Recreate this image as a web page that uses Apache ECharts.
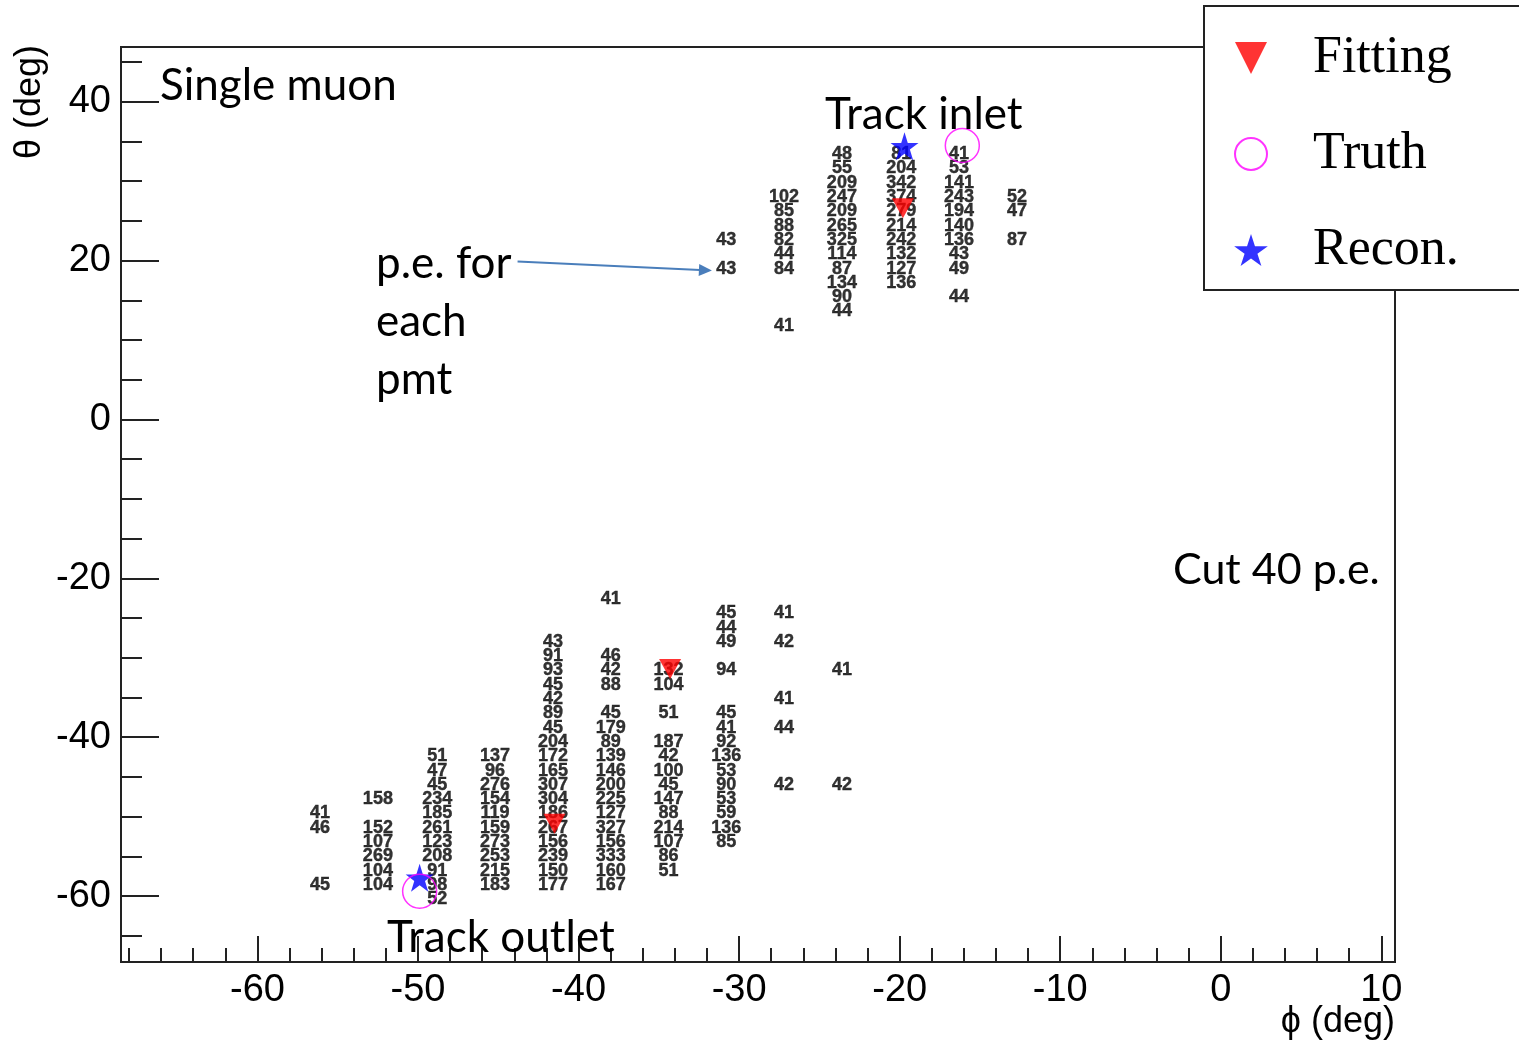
<!DOCTYPE html>
<html>
<head>
<meta charset="utf-8">
<script src="https://cdn.jsdelivr.net/npm/echarts@6/dist/echarts.min.js"></script>
<style>
  html, body { margin: 0; padding: 0; background: #fff; }
  #chart { width: 1519px; height: 1044px; }
</style>
</head>
<body>
<div id="chart"></div>
<script>
// ---- axis ticks ----
const xMajorTicks = [-60, -50, -40, -30, -20, -10, 0, 10];
const xMinorTicks = [-68, -66, -64, -62, -58, -56, -54, -52, -48, -46, -44, -42, -38, -36, -34, -32,
                     -28, -26, -24, -22, -18, -16, -14, -12, -8, -6, -4, -2, 2, 4, 6, 8];
const yMajorTicks = [-60, -40, -20, 0, 20, 40];
const yMinorTicks = [-65, -55, -50, -45, -35, -30, -25, -15, -10, -5, 5, 10, 15, 25, 30, 35, 45];

// ---- p.e. per PMT: [phi, theta, p.e.] ----
const peInlet = [
  [-30.8, 22.6, 43], [-30.8, 19.0, 43],
  [-27.2, 28.0, 102], [-27.2, 26.2, 85], [-27.2, 24.4, 88], [-27.2, 22.6, 82], [-27.2, 20.8, 44], [-27.2, 19.0, 84], [-27.2, 11.8, 41],
  [-23.6, 33.4, 48], [-23.6, 31.6, 55], [-23.6, 29.8, 209], [-23.6, 28.0, 247], [-23.6, 26.2, 209], [-23.6, 24.4, 265],
  [-23.6, 22.6, 325], [-23.6, 20.8, 114], [-23.6, 19.0, 87], [-23.6, 17.2, 134], [-23.6, 15.4, 90], [-23.6, 13.6, 44],
  [-19.9, 33.4, 81], [-19.9, 31.6, 204], [-19.9, 29.8, 342], [-19.9, 28.0, 374], [-19.9, 26.2, 279], [-19.9, 24.4, 214],
  [-19.9, 22.6, 242], [-19.9, 20.8, 132], [-19.9, 19.0, 127], [-19.9, 17.2, 136],
  [-16.3, 33.4, 41], [-16.3, 31.6, 53], [-16.3, 29.8, 141], [-16.3, 28.0, 243], [-16.3, 26.2, 194], [-16.3, 24.4, 140],
  [-16.3, 22.6, 136], [-16.3, 20.8, 43], [-16.3, 19.0, 49], [-16.3, 15.4, 44],
  [-12.7, 28.0, 52], [-12.7, 26.2, 47], [-12.7, 22.6, 87]
];
const peOutlet = [
  [-56.1, -49.6, 41], [-56.1, -51.4, 46], [-56.1, -58.6, 45],
  [-52.5, -47.8, 158], [-52.5, -51.4, 152], [-52.5, -53.2, 107], [-52.5, -55.0, 269], [-52.5, -56.8, 104], [-52.5, -58.6, 104],
  [-48.8, -42.4, 51], [-48.8, -44.2, 47], [-48.8, -46.0, 45], [-48.8, -47.8, 234], [-48.8, -49.6, 185], [-48.8, -51.4, 261],
  [-48.8, -53.2, 123], [-48.8, -55.0, 208], [-48.8, -56.8, 91], [-48.8, -58.6, 98], [-48.8, -60.4, 52],
  [-45.2, -42.4, 137], [-45.2, -44.2, 96], [-45.2, -46.0, 276], [-45.2, -47.8, 154], [-45.2, -49.6, 119], [-45.2, -51.4, 159],
  [-45.2, -53.2, 273], [-45.2, -55.0, 253], [-45.2, -56.8, 215], [-45.2, -58.6, 183],
  [-41.6, -28.0, 43], [-41.6, -29.8, 91], [-41.6, -31.6, 93], [-41.6, -33.4, 45], [-41.6, -35.2, 42], [-41.6, -37.0, 89],
  [-41.6, -38.8, 45], [-41.6, -40.6, 204], [-41.6, -42.4, 172], [-41.6, -44.2, 165], [-41.6, -46.0, 307], [-41.6, -47.8, 304],
  [-41.6, -49.6, 186], [-41.6, -51.4, 267], [-41.6, -53.2, 156], [-41.6, -55.0, 239], [-41.6, -56.8, 150], [-41.6, -58.6, 177],
  [-38.0, -22.6, 41], [-38.0, -29.8, 46], [-38.0, -31.6, 42], [-38.0, -33.4, 88], [-38.0, -37.0, 45], [-38.0, -38.8, 179],
  [-38.0, -40.6, 89], [-38.0, -42.4, 139], [-38.0, -44.2, 146], [-38.0, -46.0, 200], [-38.0, -47.8, 225], [-38.0, -49.6, 127],
  [-38.0, -51.4, 327], [-38.0, -53.2, 156], [-38.0, -55.0, 333], [-38.0, -56.8, 160], [-38.0, -58.6, 167],
  [-34.4, -31.6, 132], [-34.4, -33.4, 104], [-34.4, -37.0, 51], [-34.4, -40.6, 187], [-34.4, -42.4, 42], [-34.4, -44.2, 100],
  [-34.4, -46.0, 45], [-34.4, -47.8, 147], [-34.4, -49.6, 88], [-34.4, -51.4, 214], [-34.4, -53.2, 107], [-34.4, -55.0, 86],
  [-34.4, -56.8, 51],
  [-30.8, -24.4, 45], [-30.8, -26.2, 44], [-30.8, -28.0, 49], [-30.8, -31.6, 94], [-30.8, -37.0, 45], [-30.8, -38.8, 41],
  [-30.8, -40.6, 92], [-30.8, -42.4, 136], [-30.8, -44.2, 53], [-30.8, -46.0, 90], [-30.8, -47.8, 53], [-30.8, -49.6, 59],
  [-30.8, -51.4, 136], [-30.8, -53.2, 85],
  [-27.2, -24.4, 41], [-27.2, -28.0, 42], [-27.2, -35.2, 41], [-27.2, -38.8, 44], [-27.2, -46.0, 42],
  [-23.6, -31.6, 41], [-23.6, -46.0, 42]
];

// ---- track points: [phi, theta] ----
const fittingPts = [[-19.8, 26.6], [-34.3, -31.4], [-41.5, -50.9]];
const truthPts = [[-16.1, 34.5], [-49.9, -59.4]];
const reconPts = [[-19.7, 34.4], [-49.9, -57.7]];

// arrow "p.e. for each pmt" -> PMT, [phi, theta]
const arrowStart = [-43.8, 19.9];
const arrowEnd = [-32.1, 18.8];

const TRI_DOWN = 'path://M0,0L20,0L10,20Z';
const STAR = 'path://M50,0L61.2,34.5L97.6,34.5L68.2,55.9L79.4,90.5L50,69.1L20.6,90.5L31.8,55.9L2.4,34.5L38.8,34.5Z';
const AXC = '#222';
const tickFont = 'Liberation Sans';
const annFont = 'Lato';

const peLabel = {
  show: true, position: 'inside', color: '#000',
  fontFamily: 'Liberation Sans', fontWeight: 'bold', fontSize: 18,
  textBorderColor: '#000', textBorderWidth: 0.4,
  formatter: p => String(p.value[2])
};

const chart = echarts.init(document.getElementById('chart'), null, { renderer: 'canvas' });
chart.setOption({
  animation: false,
  backgroundColor: '#fff',
  grid: {
    left: 121, right: 124, top: 47, bottom: 82,
    show: true, borderColor: AXC, borderWidth: 2, backgroundColor: 'transparent',
    containLabel: false, outerBoundsMode: 'none'
  },
  xAxis: [
    {
      type: 'value', min: -68.5, max: 10.85, position: 'bottom',
      name: 'ϕ (deg)', nameLocation: 'end', nameGap: 0, nameMoveOverlap: false,
      nameTextStyle: { fontFamily: tickFont, fontSize: 36, color: '#000', align: 'right', verticalAlign: 'top', padding: [42, 0, 0, 0] },
      axisLine: { show: true, onZero: false, lineStyle: { color: AXC, width: 2 } },
      axisTick: { show: true, inside: true, length: 26, customValues: xMajorTicks, lineStyle: { color: AXC, width: 2 } },
      axisLabel: { show: true, customValues: xMajorTicks, fontFamily: tickFont, fontSize: 38, color: '#000', margin: 10 },
      splitLine: { show: false }
    },
    {
      type: 'value', min: -68.5, max: 10.85, position: 'bottom',
      axisLine: { show: false, onZero: false },
      axisTick: { show: true, inside: true, length: 14, customValues: xMinorTicks, lineStyle: { color: AXC, width: 2 } },
      axisLabel: { show: false },
      splitLine: { show: false }
    }
  ],
  yAxis: [
    {
      type: 'value', min: -68.3, max: 46.9, position: 'left',
      name: 'θ (deg)', nameLocation: 'end', nameGap: 2, nameRotate: 90, nameMoveOverlap: false,
      nameTextStyle: { fontFamily: tickFont, fontSize: 36, color: '#000', align: 'right', verticalAlign: 'bottom', padding: [0, 0, 73, 0] },
      axisLine: { show: true, onZero: false, lineStyle: { color: AXC, width: 2 } },
      axisTick: { show: true, inside: true, length: 38, customValues: yMajorTicks, lineStyle: { color: AXC, width: 2 } },
      axisLabel: { show: true, customValues: yMajorTicks, fontFamily: tickFont, fontSize: 38, color: '#000', margin: 10 },
      splitLine: { show: false }
    },
    {
      type: 'value', min: -68.3, max: 46.9, position: 'left',
      axisLine: { show: false, onZero: false },
      axisTick: { show: true, inside: true, length: 21, customValues: yMinorTicks, lineStyle: { color: AXC, width: 2 } },
      axisLabel: { show: false },
      splitLine: { show: false }
    }
  ],
  legend: {
    orient: 'vertical', left: 1204, top: 6,
    padding: [26, 300, 14, 30],
    itemWidth: 34, itemHeight: 32, itemGap: 44,
    backgroundColor: '#fff', borderColor: AXC, borderWidth: 2,
    selectedMode: false,
    data: ['Fitting', 'Truth', 'Recon.'],
    formatter: '{t|{name}}',
    textStyle: {
      rich: { t: { fontFamily: 'Liberation Serif', fontSize: 52, lineHeight: 60, color: '#000', padding: [0, 0, 0, 40] } }
    }
  },
  series: [
    {
      name: 'p.e. inlet', type: 'scatter', data: peInlet, symbol: 'circle', symbolSize: 1,
      itemStyle: { color: 'rgba(0,0,0,0)' }, label: peLabel, z: 2, silent: true,
      markLine: {
        silent: true, animation: false,
        symbol: ['none', 'triangle'], symbolSize: [12, 13],
        label: { show: false },
        lineStyle: { color: '#4a7ebb', width: 2, type: 'solid' },
        data: [[{ coord: arrowStart }, { coord: arrowEnd }]]
      }
    },
    {
      name: 'p.e. outlet', type: 'scatter', data: peOutlet, symbol: 'circle', symbolSize: 1,
      itemStyle: { color: 'rgba(0,0,0,0)' }, label: peLabel, z: 2, silent: true
    },
    {
      name: 'Recon.', type: 'scatter', data: reconPts, symbol: STAR, symbolSize: 28,
      itemStyle: { color: '#0000ff' }, z: 4
    },
    {
      name: 'Truth', type: 'scatter', data: truthPts, symbol: 'circle', symbolSize: 34,
      itemStyle: { color: 'rgba(0,0,0,0)', borderColor: '#ff00ff', borderWidth: 1.5 }, z: 5
    },
    {
      name: 'Fitting', type: 'scatter', data: fittingPts, symbol: TRI_DOWN, symbolSize: [22, 20],
      itemStyle: { color: '#ff0000' }, z: 6
    }
  ],
  graphic: [
    { type: 'text', x: 160, y: 86, z: 10, style: { text: 'Single muon', font: '44px ' + annFont, fill: '#000', textVerticalAlign: 'middle', verticalAlign: 'middle' } },
    { type: 'text', x: 825, y: 115, z: 10, style: { text: 'Track inlet', font: '44px ' + annFont, fill: '#000', textVerticalAlign: 'middle', verticalAlign: 'middle' } },
    { type: 'text', x: 376, y: 264, z: 10, style: { text: 'p.e. for', font: '44px ' + annFont, fill: '#000', textVerticalAlign: 'middle', verticalAlign: 'middle' } },
    { type: 'text', x: 376, y: 322, z: 10, style: { text: 'each', font: '44px ' + annFont, fill: '#000', textVerticalAlign: 'middle', verticalAlign: 'middle' } },
    { type: 'text', x: 376, y: 380, z: 10, style: { text: 'pmt', font: '44px ' + annFont, fill: '#000', textVerticalAlign: 'middle', verticalAlign: 'middle' } },
    { type: 'text', x: 387, y: 938, z: 10, style: { text: 'Track outlet', font: '44px ' + annFont, fill: '#000', textVerticalAlign: 'middle', verticalAlign: 'middle' } },
    { type: 'text', x: 1173, y: 570, z: 10, style: { text: 'Cut 40 p.e.', font: '43px ' + annFont, fill: '#000', textVerticalAlign: 'middle', verticalAlign: 'middle' } }
  ]
});
</script>
</body>
</html>
